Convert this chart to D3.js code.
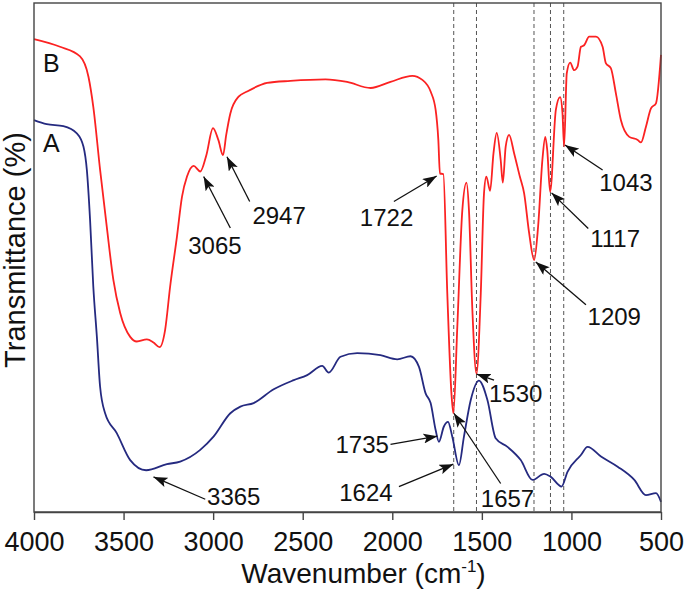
<!DOCTYPE html>
<html>
<head>
<meta charset="utf-8">
<script src="https://cdn.jsdelivr.net/npm/d3@7"></script>
<style>
  html, body { margin: 0; padding: 0; background: #fff; }
  svg { display: block; font-family: "Liberation Sans", Arial, sans-serif; }
</style>
</head>
<body>
<svg id="chart" width="685" height="592"></svg>
<script>
// ---- Data ----
const xTicks = [4000, 3500, 3000, 2500, 2000, 1500, 1000, 500];

const wavenumberB = [4000,3855,3743,3696,3669,3631,3594,3557,3519,3463,3426,3370,3333,3299,3268,3240,3202,3174,3146,3109,3072,3038,3001,2971,2945,2927,2904,2858,2811,2699,2569,2373,2252,2121,2010,1888,1832,1786,1758,1743,1734,1715,1693,1670,1659,1637,1609,1586,1572,1553,1530,1506,1488,1475,1454,1435,1417,1395,1383,1367,1348,1320,1288,1264,1236,1208,1186,1162,1146,1135,1119,1087,1063,1050,1041,1026,1007,985,966,947,929,901,863,826,808,780,752,724,677,630,612,584,556,528,500];
const transB = [92.9,91.4,89.5,85.5,79.6,67.2,56.1,45.6,39.1,34.4,33.5,33.9,33.3,32.4,35.8,44.3,54.1,61.9,65.9,68.0,66.9,70.1,75.4,73.1,70.1,74.1,78.3,81.6,82.6,84.3,84.7,85.0,84.5,83.3,84.5,85.7,84.9,82.6,79.0,73.1,66.5,66.4,43.0,23.4,19.4,36.4,59.3,64.7,59.3,39.7,27.2,43.0,62.6,65.9,63.1,70.5,74.5,69.2,64.7,71.8,74.1,70.5,65.9,62.6,54.8,49.5,56.1,69.2,73.7,71.1,62.9,79.0,81.5,78.4,71.8,86.2,88.3,86.8,87.5,91.4,91.7,93.4,93.4,91.4,88.2,87.2,82.3,77.0,73.7,73.1,72.6,75.7,79.3,80.3,89.8];

const wavenumberA = [4000,3929,3836,3761,3724,3705,3687,3669,3649,3631,3603,3538,3463,3374,3258,3184,3072,2998,2904,2848,2774,2662,2550,2475,2391,2355,2289,2196,2066,1972,1898,1851,1814,1786,1758,1740,1712,1689,1665,1628,1600,1562,1516,1469,1423,1357,1283,1217,1152,1115,1055,1022,947,910,835,742,649,584,528,500];
const transA = [77.0,76.2,75.8,74.4,71.8,67.2,57.4,44.3,34.4,24.6,19.4,15.5,10.2,8.2,9.4,9.9,12.2,14.8,19.4,20.7,21.4,24.1,25.9,26.9,28.7,27.4,30.5,31.2,30.8,30.0,30.6,28.5,23.3,21.4,16.1,13.8,16.8,17.7,14.8,9.2,14.8,22.0,25.8,22.0,14.5,12.8,10.2,6.3,7.5,6.9,5.0,7.9,11.2,12.8,10.9,8.9,6.3,3.3,3.7,2.0];

const dashedLines = [1657, 1530, 1209, 1117, 1043];

// annotations: label text, tip (w,T), tail (w,T), label anchor (w,T), anchor side
const annLabels = ["3065","2947","1722","1043","1117","1209","1530","1657","1735","1624","3365"];
const annTipW   = [3053, 2923, 1752, 1036, 1111, 1199, 1529, 1656, 1748, 1659, 3333];
const annTipT   = [65.9, 69.8, 66.0, 72.1, 62.7, 49.1, 27.1, 19.4, 14.9, 9.4, 6.9];
const annTailW  = [2904, 2796, 1991, 826, 906, 919, 1432, 1395, 2010, 1963, 3044];
const annTailT  = [55.8, 61.0, 61.0, 67.2, 55.7, 40.7, 25.9, 5.6, 13.3, 5.0, 2.5];
const annTextW  = [3139, 2781, 2181, 845, 895, 910, 1460, 1506, 2019, 1998, 3034];
const annTextT  = [50.7, 56.6, 56.1, 63.1, 52.0, 36.7, 21.7, 0.9, 11.5, 2.2, 1.4];
const annAnchor = ["start","start","start","start","start","start","start","start","end","end","start"];

const seriesNames = ["B", "A"];
const seriesLabelW = [3950, 3950];
const seriesLabelT = [86.4, 70.7];

// ---- Layout ----
const svg = d3.select("#chart");
const mLeft = 34, mRight = 661, mTop = 3, mBottom = 512;

const x = d3.scaleLinear().domain([4000, 500]).range([mLeft, mRight]);
const y = d3.scaleLinear().domain([0, 100]).range([mBottom, mTop]);

const red = "#fb2222", blue = "#252a80";

// dashed reference lines
svg.append("g").selectAll("line").data(dashedLines).join("line")
  .attr("x1", d => x(d)).attr("x2", d => x(d))
  .attr("y1", mTop).attr("y2", mBottom)
  .attr("stroke", "#555").attr("stroke-width", 1)
  .attr("stroke-dasharray", "4,3");

const line = d3.line().x(d => x(d[0])).y(d => y(d[1])).curve(d3.curveMonotoneX);

svg.append("path")
  .datum(d3.zip(wavenumberA, transA))
  .attr("d", line).attr("fill", "none")
  .attr("stroke", blue).attr("stroke-width", 1.8);

svg.append("path")
  .datum(d3.zip(wavenumberB, transB))
  .attr("d", line).attr("fill", "none")
  .attr("stroke", red).attr("stroke-width", 1.8);

// frame
svg.append("rect")
  .attr("x", mLeft).attr("y", mTop)
  .attr("width", mRight - mLeft).attr("height", mBottom - mTop)
  .attr("fill", "none").attr("stroke", "#444").attr("stroke-width", 1.4);

// x axis
const xAxis = d3.axisBottom(x).tickValues(xTicks).tickSize(8).tickSizeOuter(0).tickFormat(d3.format("d"));
const gx = svg.append("g").attr("transform", `translate(0,${mBottom})`).call(xAxis);
gx.select(".domain").attr("stroke", "#444").attr("stroke-width", 1.4);
gx.selectAll(".tick line").attr("stroke", "#444").attr("stroke-width", 1.4);
gx.selectAll(".tick text")
  .attr("font-size", 27).attr("font-family", "Liberation Sans, Arial, sans-serif")
  .attr("fill", "#111").attr("dy", 0).attr("y", 39);

// axis titles
const xt = svg.append("text")
  .attr("x", (mLeft + mRight) / 2 + 16).attr("y", 583)
  .attr("text-anchor", "middle").attr("font-size", 28).attr("fill", "#111");
xt.append("tspan").text("Wavenumber (cm");
xt.append("tspan").text("-1").attr("font-size", 17).attr("dy", -11);
xt.append("tspan").text(")").attr("dy", 11);

svg.append("text")
  .attr("transform", `translate(25,${(123 + 377) / 2}) rotate(-90)`)
  .attr("text-anchor", "middle").attr("font-size", 29).attr("fill", "#111")
  .text("Transmittance (%)");

// series labels
svg.append("g").selectAll("text").data(seriesNames).join("text")
  .attr("x", (d, i) => x(seriesLabelW[i])).attr("y", (d, i) => y(seriesLabelT[i]))
  .attr("font-size", 25).attr("fill", "#111").text(d => d);

// arrows
const defs = svg.append("defs");
defs.append("marker").attr("id", "ah")
  .attr("viewBox", "0 0 14 10").attr("refX", 14).attr("refY", 5)
  .attr("markerWidth", 14).attr("markerHeight", 10)
  .attr("markerUnits", "userSpaceOnUse").attr("orient", "auto")
  .append("path").attr("d", "M0,0 L14,5 L0,10 L3,5 Z").attr("fill", "#111");

const ann = annLabels.map((t, i) => ({
  t, tw: annTipW[i], tT: annTipT[i], lw: annTailW[i], lT: annTailT[i],
  xw: annTextW[i], xT: annTextT[i], anchor: annAnchor[i]
}));

svg.append("g").selectAll("line").data(ann).join("line")
  .attr("x1", d => x(d.lw)).attr("y1", d => y(d.lT))
  .attr("x2", d => x(d.tw)).attr("y2", d => y(d.tT))
  .attr("stroke", "#111").attr("stroke-width", 1.3)
  .attr("marker-end", "url(#ah)");

svg.append("g").selectAll("text").data(ann).join("text")
  .attr("x", d => x(d.xw)).attr("y", d => y(d.xT))
  .attr("text-anchor", d => d.anchor)
  .attr("font-size", 24).attr("fill", "#111")
  .text(d => d.t);
</script>
</body>
</html>
